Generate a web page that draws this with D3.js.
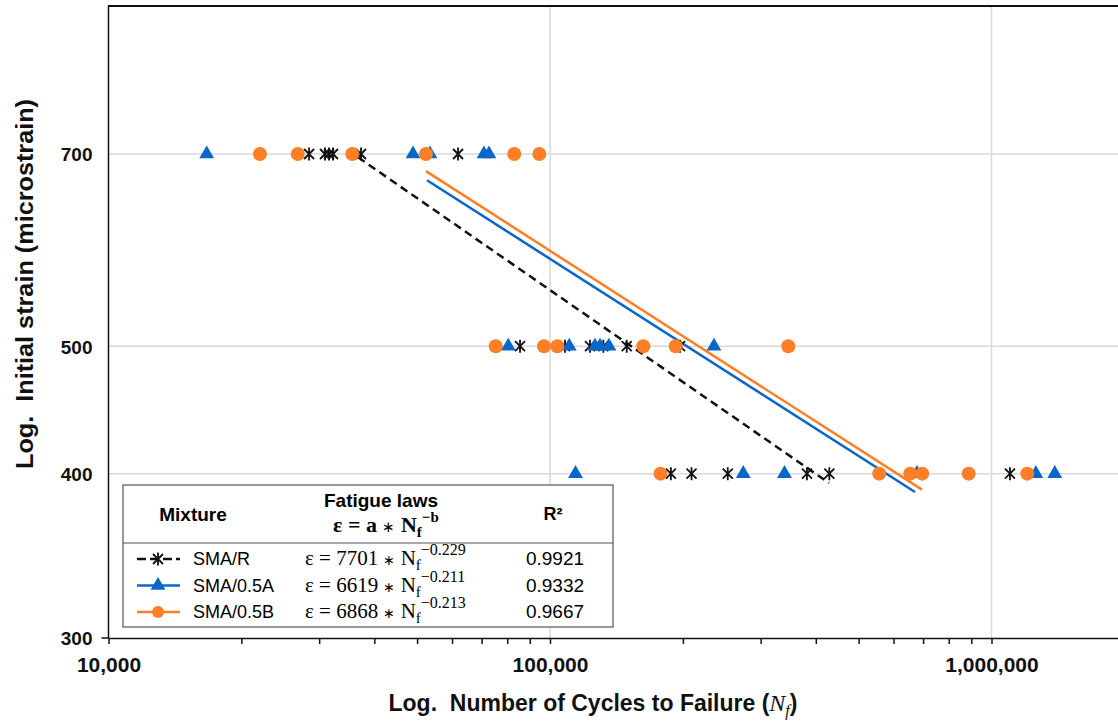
<!DOCTYPE html>
<html>
<head>
<meta charset="utf-8">
<script src="https://cdn.jsdelivr.net/npm/d3@7"></script>
<style>
  body { margin: 0; background: #fff; }
  svg { display: block; font-family: "Liberation Sans", Arial, sans-serif; }
</style>
</head>
<body>
<script>
const W = 1118, H = 722;

// cycles to failure, with the strain level of each test
const smaR_N = [28460, 30930, 31580, 32250, 37320, 61900,
                85530, 108140, 123200, 132070, 149200, 197000,
                187850, 209200, 252700, 381900, 429200, 1101000];
const smaR_e = [700, 700, 700, 700, 700, 700,
                500, 500, 500, 500, 500, 500,
                400, 400, 400, 400, 400, 400];

const smaA_N = [16690, 48950, 53480, 70870, 72740,
                80450, 110580, 126450, 129810, 135990, 235200,
                114220, 274000, 339700, 678200, 1260000, 1391000];
const smaA_e = [700, 700, 700, 700, 700,
                500, 500, 500, 500, 500, 500,
                400, 400, 400, 400, 400, 400];

const smaB_N = [22030, 26830, 35660, 52370, 83000, 94580,
                75340, 96920, 103880, 162700, 192620, 346500,
                177970, 556700, 654600, 696700, 887800, 1205000];
const smaB_e = [700, 700, 700, 700, 700, 700,
                500, 500, 500, 500, 500, 500,
                400, 400, 400, 400, 400, 400];

// end points of the fitted power laws as drawn
const smaR_fitN = [36740, 428500], smaR_fitE = [696, 393.5];
const smaA_fitN = [52650, 671000], smaA_fitE = [668.5, 387.4];
const smaB_fitN = [52370, 696000], smaB_fitE = [679.3, 389];

// table in the legend
const mixtures = ["SMA/R", "SMA/0.5A", "SMA/0.5B"];
const coefA = ["7701", "6619", "6868"];
const coefB = ["0.229", "0.211", "0.213"];
const r2 = ["0.9921", "0.9332", "0.9667"];

const yTicks = [300, 400, 500, 700];
const xMajor = [10000, 100000, 1000000];

const blue = "#0a66c8", orange = "#ff7f27";

const svg = d3.select("body").append("svg")
    .attr("width", W).attr("height", H);

// log scales, one decade = 441.5 px
const x = d3.scaleLog().domain([1e4, 2e6]).range([108.5, 108.5 + 441.5 * Math.log10(200)]);
const y = d3.scaleLog().domain([300, 700]).range([638, 154]);
const topY = 6;

// grid
svg.append("g").selectAll("line")
    .data([1e5, 1e6]).enter().append("line")
    .attr("x1", d => x(d)).attr("x2", d => x(d))
    .attr("y1", topY).attr("y2", y(300))
    .attr("stroke", "#d9d9d9").attr("stroke-width", 1.5);
svg.append("g").selectAll("line")
    .data([400, 500, 700]).enter().append("line")
    .attr("x1", x(1e4)).attr("x2", W)
    .attr("y1", d => y(d)).attr("y2", d => y(d))
    .attr("stroke", "#d9d9d9").attr("stroke-width", 1.5);

// top frame
svg.append("line")
    .attr("x1", x(1e4)).attr("x2", W).attr("y1", topY).attr("y2", topY)
    .attr("stroke", "#111").attr("stroke-width", 2);

// x axis
const xTickVals = [];
[1e4, 1e5, 1e6].forEach(b => { for (let k = 1; k <= 9; k++) xTickVals.push(b * k); });
xTickVals.push(2e6);
const xAxis = svg.append("g")
    .attr("transform", "translate(0," + y(300) + ")")
    .call(d3.axisBottom(x).tickValues(xTickVals).tickSize(6).tickSizeOuter(0)
        .tickFormat(d => xMajor.includes(d) ? d3.format(",")(d) : ""));
xAxis.select(".domain").attr("stroke", "#111").attr("stroke-width", 1.5);
xAxis.selectAll(".tick line").attr("stroke", "#111").attr("stroke-width", 1.5);
xAxis.selectAll(".tick text")
    .attr("y", 34).attr("dy", 0)
    .style("font-size", "21px").style("font-weight", "bold").attr("fill", "#111");

// y axis
const yAxis = svg.append("g")
    .attr("transform", "translate(" + x(1e4) + ",0)")
    .call(d3.axisLeft(y).tickValues(yTicks).tickSize(0).tickSizeOuter(0)
        .tickFormat(d3.format("d")));
yAxis.select(".domain").remove();
yAxis.selectAll(".tick text")
    .attr("x", -16).attr("dy", "0.36em")
    .style("font-size", "19px").style("font-weight", "bold").attr("fill", "#111");
svg.append("line")
    .attr("x1", x(1e4)).attr("x2", x(1e4)).attr("y1", topY - 1).attr("y2", y(300))
    .attr("stroke", "#111").attr("stroke-width", 1.5);
svg.append("line")
    .attr("x1", x(1e4) - 7).attr("x2", x(1e4)).attr("y1", y(300)).attr("y2", y(300))
    .attr("stroke", "#111").attr("stroke-width", 1.5);

// axis titles
const xt = svg.append("text")
    .attr("x", 593).attr("y", 711).attr("text-anchor", "middle")
    .style("font-size", "23px").style("font-weight", "bold").attr("fill", "#111");
xt.append("tspan").text("Log.\u00a0 Number of Cycles to Failure (");
xt.append("tspan").text("N").style("font-family", "'Liberation Serif', serif")
    .style("font-style", "italic").style("font-weight", "normal").style("font-size", "24px");
xt.append("tspan").text("f").attr("dy", 5).style("font-family", "'Liberation Serif', serif")
    .style("font-style", "italic").style("font-weight", "normal").style("font-size", "16px");
xt.append("tspan").text(")").attr("dy", -5);

svg.append("text")
    .attr("transform", "translate(33,284) rotate(-90)")
    .attr("text-anchor", "middle")
    .attr("textLength", 370).attr("lengthAdjust", "spacingAndGlyphs")
    .style("font-size", "24px").style("font-weight", "bold").attr("fill", "#111")
    .text("Log.\u00a0 Initial strain (microstrain)");

// fitted lines
const line = d3.line().x(d => x(d[0])).y(d => y(d[1]));
function fit(ns, es, color, dash) {
    svg.append("path")
        .attr("d", line(d3.zip(ns, es)))
        .attr("fill", "none").attr("stroke", color).attr("stroke-width", 2.5)
        .attr("stroke-dasharray", dash);
}
fit(smaR_fitN, smaR_fitE, "#111", "8,5");
fit(smaA_fitN, smaA_fitE, blue, null);
fit(smaB_fitN, smaB_fitE, orange, null);

// markers
const starPath = "M-5,-5L5,5M5,-5L-5,5M0,-6.5L0,6.5";
const triPath = d3.symbol().type(d3.symbolTriangle).size(95)();

svg.append("g").selectAll("path")
    .data(d3.zip(smaR_N, smaR_e)).enter().append("path")
    .attr("transform", d => "translate(" + x(d[0]) + "," + y(d[1]) + ")")
    .attr("d", starPath).attr("stroke", "#111").attr("stroke-width", 1.8).attr("fill", "none");

svg.append("g").selectAll("path")
    .data(d3.zip(smaA_N, smaA_e)).enter().append("path")
    .attr("transform", d => "translate(" + x(d[0]) + "," + y(d[1]) + ")")
    .attr("d", triPath).attr("fill", blue);

svg.append("g").selectAll("circle")
    .data(d3.zip(smaB_N, smaB_e)).enter().append("circle")
    .attr("cx", d => x(d[0])).attr("cy", d => y(d[1])).attr("r", 7)
    .attr("fill", orange);

// legend table
const lg = svg.append("g");
lg.append("rect").attr("x", 123).attr("y", 485).attr("width", 490).attr("height", 142)
    .attr("fill", "#fff").attr("stroke", "#555").attr("stroke-width", 1.2);
lg.append("line").attr("x1", 123).attr("x2", 613).attr("y1", 543).attr("y2", 543)
    .attr("stroke", "#555").attr("stroke-width", 1.2);

lg.append("text").attr("x", 193).attr("y", 521).attr("text-anchor", "middle")
    .style("font-size", "19px").style("font-weight", "bold").text("Mixture");
lg.append("text").attr("x", 381).attr("y", 507).attr("text-anchor", "middle")
    .style("font-size", "19px").style("font-weight", "bold").text("Fatigue laws");
const he = lg.append("text").attr("x", 333).attr("y", 532)
    .style("font-family", "'Liberation Serif', serif").style("font-size", "22px").style("font-weight", "bold");
he.append("tspan").text("\u03b5 = a ");
he.append("tspan").text("\u2217").style("font-size", "15px").style("font-weight", "normal");
he.append("tspan").text(" N");
he.append("tspan").text("f").attr("dy", 5).style("font-size", "15px");
he.append("tspan").text("\u2212b").attr("dy", -15).style("font-size", "15px");
lg.append("text").attr("x", 553).attr("y", 520).attr("text-anchor", "middle")
    .style("font-size", "18px").style("font-weight", "bold").text("R\u00b2");

const rowY = [565, 591.5, 618];
const colors = ["#111", blue, orange];
mixtures.forEach((m, i) => {
    const cy = rowY[i] - 6;
    lg.append("line").attr("x1", 137).attr("x2", 180).attr("y1", cy).attr("y2", cy)
        .attr("stroke", colors[i]).attr("stroke-width", 2.5)
        .attr("stroke-dasharray", i === 0 ? "9,4" : null);
    if (i === 0) {
        lg.append("path").attr("transform", "translate(158," + cy + ")").attr("d", starPath)
            .attr("stroke", "#111").attr("stroke-width", 1.8).attr("fill", "none");
    } else if (i === 1) {
        lg.append("path").attr("transform", "translate(158," + cy + ")").attr("d", triPath).attr("fill", blue);
    } else {
        lg.append("circle").attr("cx", 158).attr("cy", cy).attr("r", 6).attr("fill", orange);
    }
    lg.append("text").attr("x", 193).attr("y", rowY[i]).style("font-size", "18px").text(m);
    const eq = lg.append("text").attr("x", 305).attr("y", rowY[i])
        .style("font-family", "'Liberation Serif', serif").style("font-size", "21px");
    eq.append("tspan").text("\u03b5 = " + coefA[i] + " ");
    eq.append("tspan").text("\u2217").style("font-size", "14px");
    eq.append("tspan").text(" N");
    eq.append("tspan").text("f").attr("dy", 5).style("font-size", "15px");
    eq.append("tspan").text("\u2212" + coefB[i]).attr("dy", -15).style("font-size", "16px");
    lg.append("text").attr("x", 555).attr("y", rowY[i]).attr("text-anchor", "middle")
        .style("font-size", "19px").text(r2[i]);
});
</script>
</body>
</html>
